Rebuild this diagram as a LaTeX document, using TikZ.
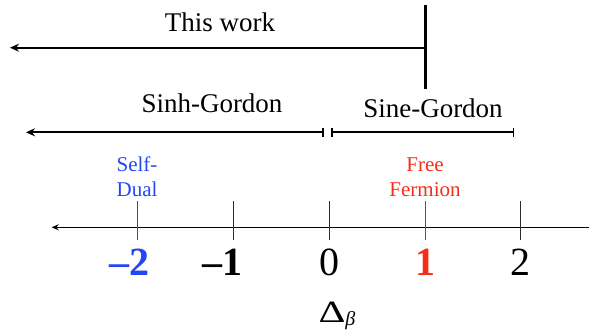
\documentclass[tikz,border=0pt]{standalone}
\usepackage{fontspec}
\setmainfont{Liberation Serif}
\usetikzlibrary{arrows.meta}
\definecolor{sdblue}{RGB}{35,70,245}
\definecolor{ffred}{RGB}{245,45,25}
\definecolor{ffdark}{RGB}{170,55,45}
\definecolor{tickgray}{RGB}{45,45,45}
\begin{document}
\begin{tikzpicture}[x=1pt,y=-1pt,
  bigtext/.style={font=\fontsize{27}{32}\selectfont, inner sep=0pt, anchor=base},
  smalltext/.style={font=\fontsize{21}{25}\selectfont, inner sep=0pt, anchor=south, align=center},
  numtext/.style={font=\fontsize{40}{44}\selectfont, inner sep=0pt, anchor=base},
  tickline/.style={line width=1.2pt, tickgray},
  rangebar/.style={line width=1.8pt}
]
\useasboundingbox (0,0) rectangle (589,330);

% This work
\coordinate (twL) at (10,47.7);
\coordinate (twR) at (425.7,47.7);
\coordinate (vbT) at (425.7,5);
\coordinate (vbB) at (425.7,89);
\draw[line width=2pt, {Stealth[length=9pt,width=8pt]}-] (twL) -- (twR);
\draw[line width=3pt] (vbT) -- (vbB);
\node[bigtext] (thiswork) at (220,31) {This work};

% Sinh-Gordon / Sine-Gordon
\coordinate (shL) at (26,132.3);
\coordinate (shR) at (323.7,132.3);
\coordinate (sgL) at (331,132.3);
\coordinate (sgR) at (514.3,132.3);
\draw[rangebar, {Stealth[length=9pt,width=8pt]}-{Bar[width=9pt]}] (shL) -- (shR);
\draw[rangebar, {Bar[width=9pt]}-{Bar[width=9pt]}] (sgL) -- (sgR);
\node[bigtext] (sinh) at (212,112) {Sinh-Gordon};
\node[bigtext] (sine) at (433,117) {Sine-Gordon};

% axis
\coordinate (axL) at (51.7,227.3);
\coordinate (axR) at (589,227.3);
\draw[line width=1.5pt, {Stealth[length=7pt,width=6pt]}-] (axL) -- (axR);

% ticks
\foreach \n/\x in {m2/137.7, m1/233.3, z/329.3, p1/425.2, p2/520.7} {
  \coordinate (t\n T) at (\x,201);
  \coordinate (t\n B) at (\x,239.5);
}
\draw[line width=1.2pt, sdblue] (tm2T) -- (tm2B);
\draw[tickline] (tm1T) -- (tm1B);
\draw[tickline] (tzT) -- (tzB);
\draw[line width=1.2pt, ffdark] (tp1T) -- (tp1B);
\draw[tickline] (tp2T) -- (tp2B);

% labels
\node[smalltext, text=sdblue] (selfdual) at (137,197) {Self-\\Dual};
\node[smalltext, text=ffred] (freefermion) at (425,197) {Free\\Fermion};

\node[numtext, text=sdblue] (lm2) at (129,275) {\textbf{--2}};
\node[numtext] (lm1) at (222,275) {\textbf{--1}};
\node[numtext] (lz) at (329.3,275) {0};
\node[numtext, text=ffred] (lp1) at (425.2,275) {\textbf{1}};
\node[numtext] (lp2) at (520.7,275) {2};

\node[font=\fontsize{31}{34}\selectfont, inner sep=0pt, anchor=base] (delta) at (337,322)
  {\scalebox{1.35}[1]{Δ}\raisebox{-3pt}{\fontsize{20}{20}\selectfont\itshape β}};
\end{tikzpicture}
\end{document}
